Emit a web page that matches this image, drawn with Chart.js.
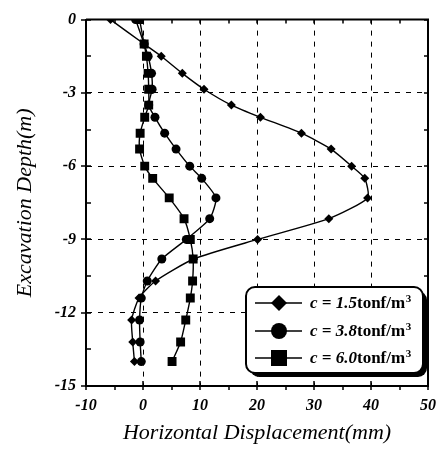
<!DOCTYPE html>
<html>
<head>
<meta charset="utf-8">
<script src="https://cdn.jsdelivr.net/npm/chart.js@4.4.1/dist/chart.umd.min.js"></script>
<style>
  html, body { margin: 0; padding: 0; background: #fff; }
</style>
</head>
<body>
<canvas id="dispChart" width="446" height="454"></canvas>
<script>
// depth of each measuring point (m) and horizontal displacement (mm) per cohesion
const depths  = [0, -1.0, -1.5, -2.2, -2.85, -3.5, -4.0, -4.65, -5.3, -6.0, -6.5, -7.3, -8.15, -9.0, -9.8, -10.7, -11.4, -12.3, -13.2, -14.0];
const dispC15 = [-5.7, 0.2, 3.2, 6.9, 10.7, 15.5, 20.6, 27.8, 33.0, 36.6, 38.9, 39.4, 32.6, 20.1, 8.9, 2.2, -0.7, -2.0, -1.8, -1.5];
const dispC38 = [-1.3, 0.2, 0.9, 1.5, 1.6, 1.0, 2.1, 3.8, 5.8, 8.2, 10.3, 12.8, 11.7, 7.6, 3.3, 0.75, -0.3, -0.6, -0.5, -0.3];
const dispC60 = [-0.6, 0.2, 0.6, 0.9, 1.0, 1.0, 0.3, -0.5, -0.6, 0.3, 1.7, 4.6, 7.2, 8.3, 8.8, 8.7, 8.3, 7.5, 6.6, 5.1];
const cohesionLabels = ['1.5', '3.8', '6.0'];
const pointStyles = ['rectRot', 'circle', 'rect'];
const xTicks = [-10, 0, 10, 20, 30, 40, 50];
const yTicks = [-15, -12, -9, -6, -3, 0];

const serif = "'Liberation Serif', 'DejaVu Serif', serif";

function toPoints(values) {
  return values.map(function(v, i) { return { x: v, y: depths[i] }; });
}

const seriesValues = [dispC15, dispC38, dispC60];
const pointSizes = [4.5, 4.5, 6.3];

const datasets = seriesValues.map(function(vals, i) {
  return {
    label: 'c = ' + cohesionLabels[i],
    data: toPoints(vals),
    showLine: true,
    borderColor: '#000',
    backgroundColor: '#000',
    borderWidth: 1.4,
    pointStyle: pointStyles[i],
    pointRadius: pointSizes[i],
    pointBorderWidth: 0,
    tension: 0.2,
    order: 3 - i
  };
});

// frame on top/right and the little tick marks
const frameTicks = {
  id: 'frameTicks',
  afterDraw(chart) {
    const { ctx, chartArea: a, scales: { x, y } } = chart;
    ctx.save();
    ctx.strokeStyle = '#000';
    ctx.lineWidth = 2;
    ctx.beginPath();
    ctx.moveTo(a.left, a.top);
    ctx.lineTo(a.right, a.top);
    ctx.lineTo(a.right, a.bottom);
    ctx.stroke();

    ctx.lineWidth = 1.5;
    ctx.beginPath();
    for (let v = yTicks[0]; v <= yTicks[yTicks.length - 1]; v += 1.5) {
      const py = Math.round(y.getPixelForValue(v));
      const major = v % 3 === 0;
      ctx.moveTo(a.left - (major ? 5 : 0), py);
      ctx.lineTo(a.left + 5, py);
      ctx.moveTo(a.right - 4, py);
      ctx.lineTo(a.right, py);
    }
    for (let v = xTicks[0]; v <= xTicks[xTicks.length - 1]; v += 5) {
      const px = Math.round(x.getPixelForValue(v));
      const major = v % 10 === 0;
      ctx.moveTo(px, a.bottom - (major ? 5 : 0));
      ctx.lineTo(px, a.bottom + 4);
      ctx.moveTo(px, a.top);
      ctx.lineTo(px, a.top + 4);
    }
    ctx.stroke();
    ctx.restore();
  }
};

// legend box with mixed italic / upright text
const legendBox = {
  id: 'legendBox',
  afterDraw(chart) {
    const ctx = chart.ctx;
    const bx = 246, by = 287, bw = 177, bh = 86, r = 9;
    function rr(x0, y0) {
      ctx.beginPath();
      ctx.moveTo(x0 + r, y0);
      ctx.arcTo(x0 + bw, y0, x0 + bw, y0 + bh, r);
      ctx.arcTo(x0 + bw, y0 + bh, x0, y0 + bh, r);
      ctx.arcTo(x0, y0 + bh, x0, y0, r);
      ctx.arcTo(x0, y0, x0 + bw, y0, r);
      ctx.closePath();
    }
    ctx.save();
    rr(bx + 4, by + 4);
    ctx.fillStyle = '#000';
    ctx.fill();
    rr(bx, by);
    ctx.fillStyle = '#fff';
    ctx.fill();
    ctx.lineWidth = 2;
    ctx.strokeStyle = '#000';
    ctx.stroke();

    const rowY = [303, 331, 358];
    cohesionLabels.forEach(function(lab, i) {
      const cy = rowY[i];
      ctx.lineWidth = 1.4;
      ctx.beginPath();
      ctx.moveTo(255, cy);
      ctx.lineTo(302, cy);
      ctx.stroke();
      const cx = 279;
      ctx.fillStyle = '#000';
      ctx.beginPath();
      if (pointStyles[i] === 'rectRot') {
        ctx.moveTo(cx, cy - 8); ctx.lineTo(cx + 8, cy); ctx.lineTo(cx, cy + 8); ctx.lineTo(cx - 8, cy);
        ctx.closePath();
      } else if (pointStyles[i] === 'circle') {
        ctx.arc(cx, cy, 8, 0, Math.PI * 2);
      } else {
        ctx.rect(cx - 8, cy - 8, 16, 16);
      }
      ctx.fill();

      ctx.textBaseline = 'middle';
      ctx.textAlign = 'left';
      let tx = 310;
      ctx.font = 'italic bold 17px ' + serif;
      const part1 = 'c = ' + lab;
      ctx.fillText(part1, tx, cy + 1);
      tx += ctx.measureText(part1).width;
      ctx.font = 'bold 17px ' + serif;
      ctx.fillText('tonf/m', tx, cy + 1);
      tx += ctx.measureText('tonf/m').width;
      ctx.font = 'bold 11px ' + serif;
      ctx.fillText('3', tx + 0.5, cy - 4);
    });
    ctx.restore();
  }
};

function edgeColor(ctx, lo, hi) {
  const v = ctx.tick ? ctx.tick.value : null;
  return (v === lo || v === hi) ? 'rgba(0,0,0,0)' : '#000';
}

new Chart(document.getElementById('dispChart').getContext('2d'), {
  type: 'scatter',
  data: { datasets: datasets },
  options: {
    responsive: false,
    animation: false,
    layout: { padding: { top: 16, right: 12, left: 0, bottom: 0 } },
    plugins: { legend: { display: false }, tooltip: { enabled: false } },
    scales: {
      x: {
        type: 'linear',
        min: xTicks[0],
        max: xTicks[xTicks.length - 1],
        afterFit: function(s) { s.height = 68; },
        ticks: {
          stepSize: 10,
          color: '#000',
          padding: 10,
          font: { family: serif, size: 16, style: 'italic', weight: 'bold' }
        },
        grid: {
          drawTicks: false,
          lineWidth: 1,
          color: function(c) { return edgeColor(c, xTicks[0], xTicks[xTicks.length - 1]); }
        },
        border: { display: true, color: '#000', width: 2, dash: [5, 6] },
        title: {
          display: true,
          text: 'Horizontal Displacement(mm)',
          color: '#000',
          font: { family: serif, size: 22, style: 'italic' },
          padding: { top: 0, bottom: 8 }
        }
      },
      y: {
        type: 'linear',
        min: yTicks[0],
        max: yTicks[yTicks.length - 1],
        afterFit: function(s) { s.width = 86; },
        ticks: {
          stepSize: 3,
          color: '#000',
          padding: 10,
          font: { family: serif, size: 16, style: 'italic', weight: 'bold' }
        },
        grid: {
          drawTicks: false,
          lineWidth: 1,
          color: function(c) { return edgeColor(c, yTicks[0], yTicks[yTicks.length - 1]); }
        },
        border: { display: true, color: '#000', width: 2, dash: [5, 6] },
        title: {
          display: true,
          text: 'Excavation Depth(m)',
          color: '#000',
          font: { family: serif, size: 22, style: 'italic' },
          padding: { top: 12, bottom: 0 }
        }
      }
    }
  },
  plugins: [frameTicks, legendBox]
});
</script>
</body>
</html>
